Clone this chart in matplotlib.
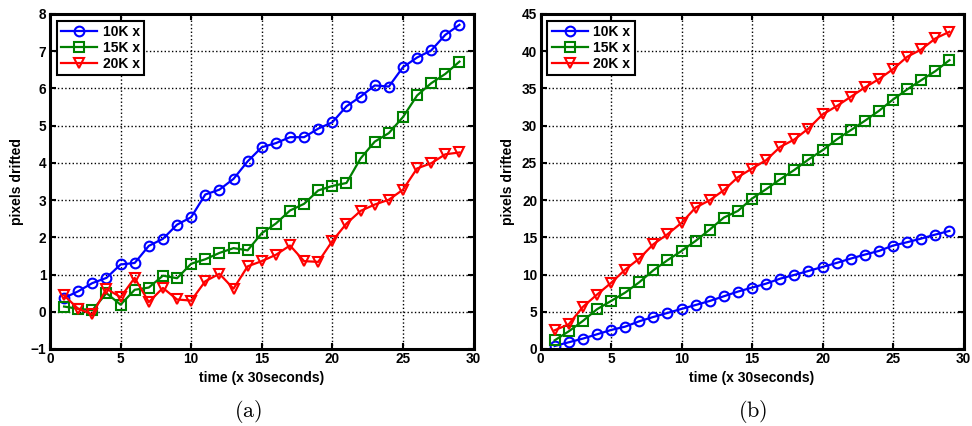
import matplotlib
matplotlib.use("Agg")
import matplotlib.pyplot as plt

# x axis: sample index (x 30 seconds)
t = list(range(1, 30))

# panel (a)
a_10k = [0.37, 0.55, 0.77, 0.91, 1.27, 1.31, 1.77, 1.96, 2.34, 2.54,
         3.15, 3.28, 3.57, 4.04, 4.42, 4.53, 4.69, 4.69, 4.92, 5.09,
         5.52, 5.78, 6.08, 6.05, 6.57, 6.83, 7.02, 7.44, 7.71]
a_15k = [0.14, 0.08, 0.04, 0.50, 0.19, 0.59, 0.65, 0.97, 0.90, 1.29,
         1.41, 1.58, 1.71, 1.65, 2.11, 2.37, 2.72, 2.90, 3.26, 3.38,
         3.46, 4.12, 4.57, 4.80, 5.23, 5.81, 6.14, 6.39, 6.72]
a_20k = [0.44, 0.08, -0.07, 0.62, 0.39, 0.91, 0.26, 0.64, 0.33, 0.30,
         0.82, 1.02, 0.62, 1.22, 1.36, 1.53, 1.78, 1.36, 1.34, 1.90,
         2.37, 2.71, 2.88, 3.01, 3.28, 3.85, 3.99, 4.23, 4.28]

# panel (b)
b_10k = [0.40, 0.90, 1.39, 1.97, 2.55, 3.00, 3.72, 4.30, 4.84, 5.38,
         5.91, 6.45, 7.08, 7.71, 8.24, 8.78, 9.45, 9.95, 10.48, 11.02,
         11.56, 12.14, 12.68, 13.17, 13.89, 14.34, 14.83, 15.37, 15.86]
b_15k = [1.16, 2.37, 3.76, 5.33, 6.45, 7.57, 8.96, 10.57, 11.92, 13.17,
         14.52, 16.04, 17.65, 18.55, 20.21, 21.46, 22.80, 24.05, 25.45, 26.70,
         28.14, 29.39, 30.65, 31.99, 33.51, 34.86, 36.11, 37.32, 38.80]
b_20k = [2.51, 3.32, 5.65, 7.30, 8.87, 10.66, 12.14, 14.07, 15.41, 16.94,
         19.00, 19.98, 21.33, 23.08, 24.24, 25.36, 27.15, 28.14, 29.61, 31.50,
         32.62, 33.87, 35.13, 36.25, 37.59, 39.25, 40.23, 41.71, 42.61]

labels = ['10K x', '15K x', '20K x']
colors = ['#0000ff', '#008000', '#ff0000']
markers = ['o', 's', 'v']

plt.rcParams['font.family'] = ['Liberation Sans', 'DejaVu Sans']
plt.rcParams['font.weight'] = 'bold'
plt.rcParams['mathtext.fontset'] = 'cm'

fig = plt.figure(figsize=(9.72, 4.26), dpi=100)
ax_a = fig.add_axes([0.0514, 0.1808, 0.4358, 0.7864])
ax_b = fig.add_axes([0.5561, 0.1808, 0.4352, 0.7864])


def draw(ax, series, ylim, yticks):
    for ys, lab, c, m in zip(series, labels, colors, markers):
        ax.plot(t, ys, color=c, marker=m, markersize=7, markerfacecolor='none',
                markeredgecolor=c, markeredgewidth=1.5, linewidth=1.6, label=lab)
    ax.set_xlim(0, 30)
    ax.set_ylim(*ylim)
    ax.set_xticks(range(0, 31, 5))
    ax.set_yticks(yticks)
    ax.grid(True, linestyle=':', color='black', linewidth=1.0)
    ax.tick_params(direction='in', top=True, right=True, length=4, width=1.5,
                   labelsize=9.8, pad=2.5)
    for lbl in ax.get_xticklabels() + ax.get_yticklabels():
        lbl.set_fontweight('bold')
    for s in ax.spines.values():
        s.set_linewidth(2.2)
    ax.set_xlabel('time (x 30seconds)', fontsize=10, fontweight='bold', labelpad=3)
    ax.set_ylabel('pixels drifted', fontsize=10, fontweight='bold', labelpad=5)
    leg = ax.legend(loc='upper left', fancybox=False, edgecolor='black',
                    framealpha=1, borderpad=0.3, labelspacing=0.15,
                    handlelength=2.6, handletextpad=0.4,
                    prop={'weight': 'bold', 'size': 10})
    leg.get_frame().set_linewidth(1.5)


draw(ax_a, [a_10k, a_15k, a_20k], (-1, 8), range(-1, 9))
draw(ax_b, [b_10k, b_15k, b_20k], (0, 45), range(0, 46, 5))

fig.text(0.255, 0.033, r'$\mathrm{(a)}$', ha='center', va='center', fontsize=16)
fig.text(0.774, 0.033, r'$\mathrm{(b)}$', ha='center', va='center', fontsize=16)

fig.savefig('out.png', dpi=100)
